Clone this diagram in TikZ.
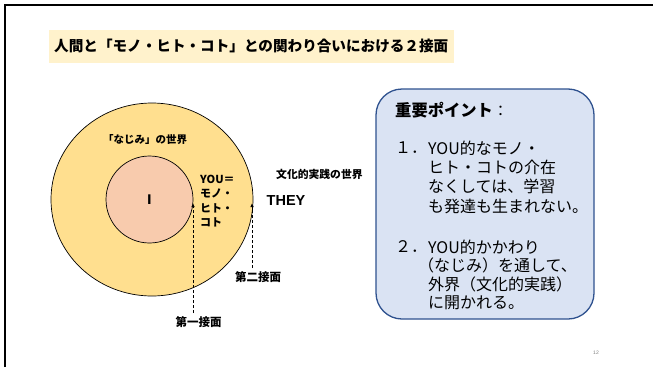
\documentclass[tikz,border=0pt]{standalone}
\usepackage{fontspec}
\setmainfont{Liberation Sans}
\newfontfamily\cjk{Noto Sans CJK JP}
\usetikzlibrary{arrows.meta}
\definecolor{titlebg}{HTML}{FFF2CC}
\definecolor{outerfill}{HTML}{FFDF8F}
\definecolor{innerfill}{HTML}{F8CBAD}
\definecolor{boxfill}{HTML}{DAE3F3}
\definecolor{boxline}{HTML}{2F528F}
\tikzset{
  lbl/.style={inner sep=0pt, anchor=west, font=\cjk\bfseries\fontsize{#1}{#1}\selectfont},
  boxtxt/.style={inner sep=0pt, anchor=west, font=\cjk\fontsize{16}{16}\selectfont},
  clbl/.style={inner sep=0pt, font=\cjk\bfseries\fontsize{#1}{#1}\selectfont},
  darrow/.style={densely dashed, line width=0.9pt, -{Latex[length=4pt,width=3.5pt]}}
}
\begin{document}
\begin{tikzpicture}[x=1pt,y=-1pt]
\useasboundingbox (0,0) rectangle (653,367);
\fill[white] (0,0) rectangle (653,367);
% frame
\draw[line width=2.5pt] (5,367) -- (5,5) -- (653,5);
% title
\fill[titlebg] (49,30) rectangle (454,63);
\node[lbl=14.6] (title) at (54,46) {人間と「モノ・ヒト・コト」との関わり合いにおける２接面};
% circles
\draw[fill=outerfill, line width=0.7pt] (152,199.5) ellipse [x radius=101, y radius=96.5];
\node[draw, circle, fill=innerfill, line width=0.7pt, minimum size=87pt, inner sep=0pt] (I) at (149.5,199.5) {};
\node[clbl=13] (Ilbl) at (149.5,200) {\bfseries I};
\node[lbl=10.5] (najimi) at (103,140) {「なじみ」の世界};
\node[lbl=11] (you1) at (200,179) {YOU＝};
\node[lbl=11] (you2) at (200,193.5) {モノ・};
\node[lbl=11] (you3) at (200,208) {ヒト・};
\node[lbl=11] (you4) at (200,222.5) {コト};
\node[inner sep=0pt, anchor=west, font=\bfseries\fontsize{14.5}{14.5}\selectfont] (they) at (266.5,200.5) {THEY};
\node[lbl=10.8] (bunka) at (276,174) {文化的実践の世界};
% labels + arrows
\node[clbl=11.5] (second) at (258,277) {第二接面};
\node[clbl=11.5] (first) at (198.5,322) {第一接面};
\coordinate (s1) at (193,313);
\coordinate (e1) at (193,203);
\coordinate (s2) at (252,268);
\coordinate (e2) at (252,203);
\draw[darrow] (s1) -- (e1);
\draw[darrow] (s2) -- (e2);
% point box
\draw[fill=boxfill, draw=boxline, line width=1.3pt, rounded corners=26pt] (376,89) rectangle (594,319);
\node[inner sep=0pt, anchor=west] (pt) at (395,110) {{\cjk\bfseries\fontsize{16.3}{16.3}\selectfont 重要ポイント}{\cjk\fontsize{15}{15}\selectfont ：}};
\node[boxtxt] (n1) at (395,148) {１．};
\node[boxtxt] (a1) at (428,148) {YOU的なモノ・};
\node[boxtxt] (a2) at (428,167) {ヒト・コトの介在};
\node[boxtxt] (a3) at (428,186.5) {なくしては、学習};
\node[boxtxt] (a4) at (428,206) {も発達も生まれない。};
\node[boxtxt] (n2) at (395,247) {２．};
\node[boxtxt] (b1) at (428,247) {YOU的かかわり};
\node[boxtxt] (b2) at (418,265.5) {（なじみ）を通して、};
\node[boxtxt] (b3) at (428,284.5) {外界（文化的実践）};
\node[boxtxt] (b4) at (428,303) {に開かれる。};
% page number
\node[inner sep=0pt, text=gray, font=\fontsize{5}{5}\selectfont] (pg) at (596,353) {12};
\end{tikzpicture}
\end{document}
